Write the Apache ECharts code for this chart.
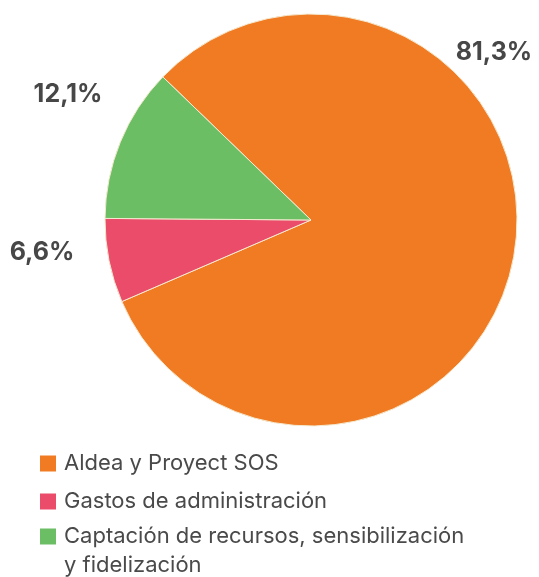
<!DOCTYPE html>
<html>
<head>
<meta charset="utf-8">
<script src="https://cdn.jsdelivr.net/npm/echarts@6/dist/echarts.min.js"></script>
<style>
  html, body { margin: 0; padding: 0; background: #fff; }
  #chart { width: 539px; height: 577px; }
</style>
</head>
<body>
<div id="chart"></div>
<script>
const categories = ['Aldea y Proyect SOS', 'Gastos de administración', 'Captación de recursos, sensibilización\ny fidelización']
const values = [81.3, 6.6, 12.1]
const colors = ['#F17B23', '#EA4C6A', '#6BBE64']

// where each percentage sits (label anchor, px)
const labelPos = [[494, 52], [42, 252], [68, 94]]

const legendText = {
    fontFamily: 'Inter',
    fontSize: 22,
    lineHeight: 29,
    color: '#4a4a4a',
    padding: [0, 0, 0, 3]
}
const legendBase = {
    orient: 'vertical',
    left: 40,
    padding: 0,
    itemWidth: 16,
    itemHeight: 16,
    itemGap: 9,
    icon: 'rect',
    itemStyle: { borderWidth: 0 },
    selectedMode: false,
    height: 200,
    textStyle: legendText
}

const chart = echarts.init(document.getElementById('chart'))
chart.setOption({
    animation: false,
    legend: [
        Object.assign({}, legendBase, {
            top: 449,
            data: [categories[0], categories[1]]
        }),
        // the two-line item: an empty first line keeps "Captación..." beside the square
        Object.assign({}, legendBase, {
            top: 493,
            data: [categories[2]],
            formatter: name => '\n' + name
        })
    ],
    series: [
        {
            type: 'pie',
            center: [311, 220],
            radius: 206,
            startAngle: 136,
            clockwise: true,
            data: categories.map((name, i) => ({
                name: name,
                value: values[i],
                itemStyle: { color: colors[i] }
            })),
            itemStyle: {
                borderColor: '#f4ead0',
                borderWidth: 1
            },
            label: {
                show: true,
                position: 'outside',
                overflow: 'none',
                fontFamily: 'Inter',
                fontWeight: 'bold',
                fontSize: 25,
                color: '#474747',
                formatter: p => p.value.toFixed(1).replace('.', ',') + '%'
            },
            labelLine: { show: false },
            labelLayout: function (params) {
                const pos = labelPos[params.dataIndex]
                return { x: pos[0], y: pos[1], align: 'center', verticalAlign: 'middle', hideOverlap: false }
            },
            emphasis: { disabled: true }
        }
    ]
})

window.addEventListener('resize', () => {
    chart.resize()
})
</script>
</body>
</html>
